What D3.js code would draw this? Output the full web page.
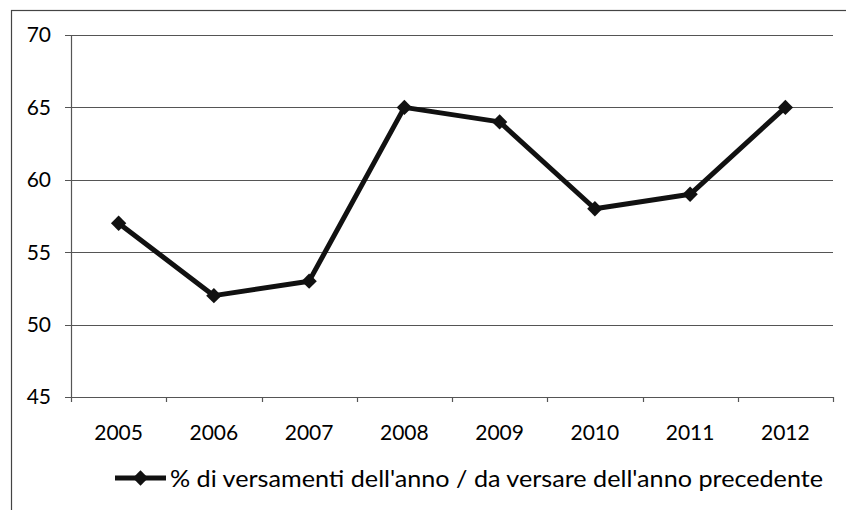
<!DOCTYPE html>
<html>
<head>
<meta charset="utf-8">
<script src="https://cdn.jsdelivr.net/npm/d3@7"></script>
<style>
  body { margin: 0; background: #fff; }
  text { font-family: Lato, "Open Sans", sans-serif; fill: #000; }
</style>
</head>
<body>
<div id="chart"></div>
<script>
// chart data
var years = ['2005', '2006', '2007', '2008', '2009', '2010', '2011', '2012'];
var values = [57, 52, 53, 65, 64, 58, 59, 65];
var yTicks = [45, 50, 55, 60, 65, 70];
var seriesName = "% di versamenti dell'anno / da versare dell'anno precedente";

var width = 846, height = 510;
var margin = {top: 35, right: 13, bottom: 113, left: 71};
var pw = width - margin.left - margin.right,
    ph = height - margin.top - margin.bottom;

var svg = d3.select('#chart').append('svg')
    .attr('width', width)
    .attr('height', height);

// outer frame (runs off the right and bottom edge)
svg.append('rect')
    .attr('x', 11.5).attr('y', 10.5)
    .attr('width', 900).attr('height', 600)
    .attr('fill', 'none').attr('stroke', '#444').attr('stroke-width', 1.2);

var g = svg.append('g').attr('transform', 'translate(' + margin.left + ',' + margin.top + ')');

var x = d3.scaleBand().domain(years).range([0, pw]);
var y = d3.scaleLinear().domain([45, 70]).range([ph, 0]);

// gridlines
g.selectAll('.grid')
    .data(yTicks)
    .enter()
    .append('line')
    .attr('x1', -6).attr('x2', pw)
    .attr('y1', d => Math.round(y(d)) + 0.5)
    .attr('y2', d => Math.round(y(d)) + 0.5)
    .attr('stroke', '#555').attr('stroke-width', 1.2);

// y axis line
g.append('line')
    .attr('x1', 0.5).attr('x2', 0.5)
    .attr('y1', 0).attr('y2', ph)
    .attr('stroke', '#555').attr('stroke-width', 1.2);

// y labels
g.selectAll('.ylab')
    .data(yTicks)
    .enter()
    .append('text')
    .attr('x', -20)
    .attr('y', d => y(d))
    .attr('dy', '0.35em')
    .attr('text-anchor', 'end')
    .style('font-size', '21px')
    .text(d => d);

// x ticks at band boundaries
var bounds = years.map(d => x(d)).concat([pw]);
g.selectAll('.xtick')
    .data(bounds)
    .enter()
    .append('line')
    .attr('x1', d => Math.round(d) + 0.5).attr('x2', d => Math.round(d) + 0.5)
    .attr('y1', ph).attr('y2', ph + 5)
    .attr('stroke', '#555').attr('stroke-width', 1.2);

// x labels
g.selectAll('.xlab')
    .data(years)
    .enter()
    .append('text')
    .attr('x', d => x(d) + x.bandwidth() / 2)
    .attr('y', ph + 43)
    .attr('text-anchor', 'middle')
    .style('font-size', '21px')
    .text(d => d);

// series line
var line = d3.line()
    .x((d, i) => x(years[i]) + x.bandwidth() / 2)
    .y(d => y(d));

g.append('path')
    .datum(values)
    .attr('d', line)
    .attr('fill', 'none')
    .attr('stroke', '#111')
    .attr('stroke-width', 5)
    .attr('stroke-linejoin', 'round');

var diamond = d3.symbol().type(d3.symbolDiamond2).size(150);

g.selectAll('.marker')
    .data(values)
    .enter()
    .append('path')
    .attr('d', diamond)
    .attr('transform', (d, i) => 'translate(' + (x(years[i]) + x.bandwidth() / 2) + ',' + y(d) + ')')
    .attr('fill', '#111');

// legend
var leg = svg.append('g').attr('transform', 'translate(115,478)');
leg.append('line')
    .attr('x1', 0).attr('x2', 51)
    .attr('y1', 0).attr('y2', 0)
    .attr('stroke', '#111').attr('stroke-width', 5);
leg.append('path')
    .attr('d', diamond)
    .attr('transform', 'translate(25.5,0)')
    .attr('fill', '#111');
leg.append('text')
    .attr('x', 55)
    .attr('y', 1)
    .attr('dy', '0.35em')
    .attr('textLength', 653)
    .attr('lengthAdjust', 'spacingAndGlyphs')
    .style('font-size', '24px')
    .text(seriesName);
</script>
</body>
</html>
